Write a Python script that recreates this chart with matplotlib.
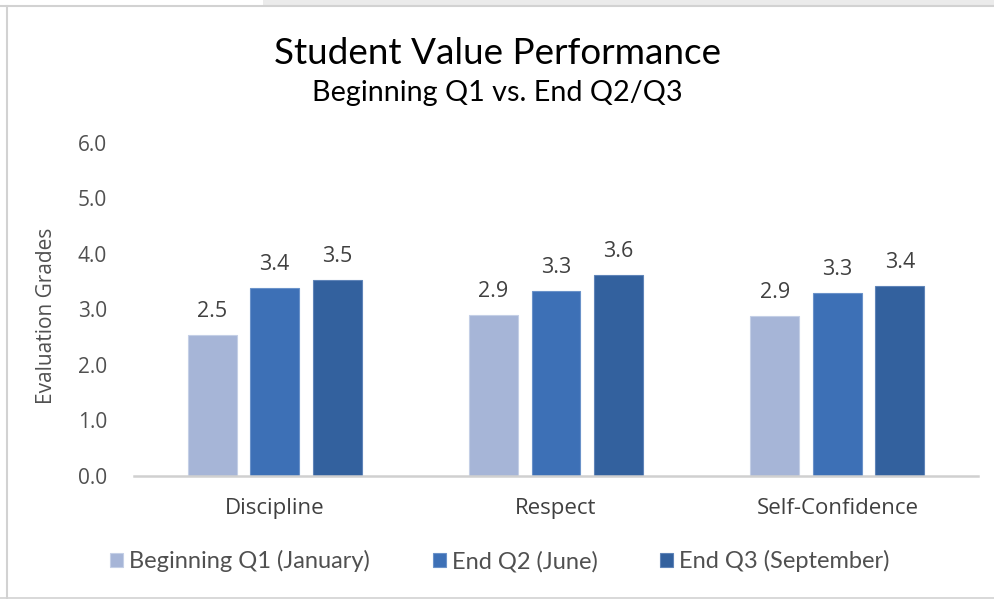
import matplotlib
matplotlib.use("Agg")
import matplotlib.pyplot as plt
from matplotlib.patches import Rectangle
from matplotlib.lines import Line2D
import numpy as np

categories = ["Discipline", "Respect", "Self-Confidence"]
series_names = ["Beginning Q1 (January)", "End Q2 (June)", "End Q3 (September)"]
beginning_q1 = [2.54, 2.90, 2.88]
end_q2 = [3.39, 3.34, 3.30]
end_q3 = [3.53, 3.62, 3.42]
yticks = [0.0, 1.0, 2.0, 3.0, 4.0, 5.0, 6.0]

colors = ["#a6b5d7", "#3d70b6", "#33619e"]
edges = ["#c4cfe6", "#6a92c9", "#5f84b8"]

W, H = 995, 599
fig = plt.figure(figsize=(W / 100, H / 100), dpi=100)
fig.patch.set_facecolor("white")

# frame decorations
fig.add_artist(Rectangle((263 / W, 1 - 5 / H), 1 - 263 / W, 5 / H, transform=fig.transFigure,
                         facecolor="#ebebeb", edgecolor="none"))
fig.add_artist(Line2D([0, 1], [1 - 6 / H, 1 - 6 / H], transform=fig.transFigure, color="#d2d2d2", lw=1.5))
fig.add_artist(Line2D([7 / W, 7 / W], [0, 1 - 6 / H], transform=fig.transFigure, color="#d2d2d2", lw=1.5))
fig.add_artist(Line2D([0, 1], [1.5 / H, 1.5 / H], transform=fig.transFigure, color="#d2d2d2", lw=1.2))

left, right = 134 / W, 978 / W
bottom, top = (H - 476) / H, (H - 143) / H
ax = fig.add_axes([left, bottom, right - left, top - bottom])

x = np.arange(len(categories))
width = 0.174
offset = 0.222
data = [beginning_q1, end_q2, end_q3]
font_num = "Open Sans"
for i, vals in enumerate(data):
    bars = ax.bar(x + (i - 1) * offset, vals, width, color=colors[i], edgecolor=edges[i],
                  linewidth=0.8, label=series_names[i], zorder=3)
    for b, v in zip(bars, vals):
        ax.annotate(f"{v:.1f}", (b.get_x() + b.get_width() / 2, v), xytext=(0, 13),
                    textcoords="offset points", ha="center", va="baseline",
                    fontsize=15.5, color="#404040", family=font_num)

ax.set_xlim(-0.5, 2.5)
ax.set_ylim(0, 6)
ax.set_yticks(yticks)
ax.set_yticklabels([f"{t:.1f}" for t in yticks], family=font_num, fontsize=15, color="#505050")
ax.set_xticks(x)
ax.set_xticklabels(categories, family=font_num, fontsize=16, color="#404040")
ax.tick_params(axis="both", length=0)
ax.tick_params(axis="y", pad=19.5)
ax.tick_params(axis="x", pad=15.5)
for s in ["top", "right", "left"]:
    ax.spines[s].set_visible(False)
ax.spines["bottom"].set_color("#d0d0d0")
ax.spines["bottom"].set_linewidth(1.8)
ax.spines["bottom"].set_zorder(4)
ax.set_facecolor("white")

fig.text(47 / W, 1 - 316 / H, "Evaluation Grades", rotation=90, ha="center", va="center",
         fontsize=15, color="#505050", family=font_num)

fig.text(0.5, 1 - 64 / H, "Student Value Performance", ha="center", va="baseline",
         fontsize=26.6, color="black", family="Lato")
fig.text(0.5, 1 - 101 / H, "Beginning Q1 vs. End Q2/Q3", ha="center", va="baseline",
         fontsize=20.7, color="black", family="Lato")

leg = fig.legend(handles=ax.containers, labels=series_names, loc="center",
                 bbox_to_anchor=(500 / W, 1 - 561 / H), ncol=3, frameon=False,
                 prop={"family": "Lato", "size": 17}, handlelength=0.55, handleheight=0.55,
                 handletextpad=0.25, columnspacing=2.65, labelcolor="#505050")

fig.savefig("out.png", dpi=100, facecolor="white")
